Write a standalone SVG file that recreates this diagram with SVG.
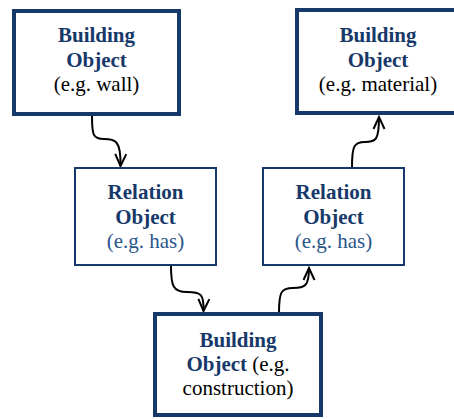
<svg xmlns="http://www.w3.org/2000/svg" width="454" height="419" viewBox="0 0 454 419">
<style>
.big{fill:#fff;stroke:#17396A;stroke-width:4}
.rel{fill:#fff;stroke:#17396A;stroke-width:2}
text{font-family:'Liberation Serif','Times New Roman','DejaVu Serif',serif;font-size:21px;text-anchor:middle}
.b{font-weight:bold;fill:#17396A}
.k{fill:#000}
.h{fill:#2A568A}
.c{fill:none;stroke:#000;stroke-width:2;marker-end:url(#arr)}
</style>
<defs>
<marker id="arr" viewBox="-14 -8 16 16" refX="0" refY="0" markerWidth="16" markerHeight="16" orient="auto" markerUnits="userSpaceOnUse">
<path d="M-12,-5.5 L0,0 L-12,5.5" fill="none" stroke="#000" stroke-width="2"/>
</marker>
</defs>
<g id="connectors">
<path class="c" d="M92,116 C92,135 93,139 104,139 S121,140 120.5,166"/>
<path class="c" d="M171,266 C171,286 173,292 187,292 S204,294 203.5,311"/>
<path class="c" d="M279,313 C279,292 281,288 293,288 S309,286 309,268"/>
<path class="c" d="M352,167 C352,146 354,142 365,142 S379,140 379,117"/>
</g>
<g id="building-wall">
<rect class="big" x="14" y="11" width="165" height="103"/>
<text x="96.5" y="42" class="b">Building</text>
<text x="96.5" y="67" class="b">Object</text>
<text x="96.5" y="91" class="k">(e.g. wall)</text>
</g>
<g id="building-material">
<rect class="big" x="297" y="10" width="162" height="103"/>
<text x="378" y="42" class="b">Building</text>
<text x="378" y="67" class="b">Object</text>
<text x="378" y="91" class="k">(e.g. material)</text>
</g>
<g id="relation-left">
<rect class="rel" x="75" y="168" width="141" height="97"/>
<text x="145.5" y="199" class="b">Relation</text>
<text x="145.5" y="224" class="b">Object</text>
<text x="145.5" y="248" class="h">(e.g. has)</text>
</g>
<g id="relation-right">
<rect class="rel" x="263" y="168" width="141" height="97"/>
<text x="333.5" y="199" class="b">Relation</text>
<text x="333.5" y="224" class="b">Object</text>
<text x="333.5" y="248" class="h">(e.g. has)</text>
</g>
<g id="building-construction">
<rect class="big" x="155" y="314" width="166" height="101"/>
<text x="238" y="347" class="b">Building</text>
<text x="238" y="371"><tspan class="b">Object</tspan><tspan class="k"> (e.g.</tspan></text>
<text x="238" y="395" class="k">construction)</text>
</g>
</svg>
